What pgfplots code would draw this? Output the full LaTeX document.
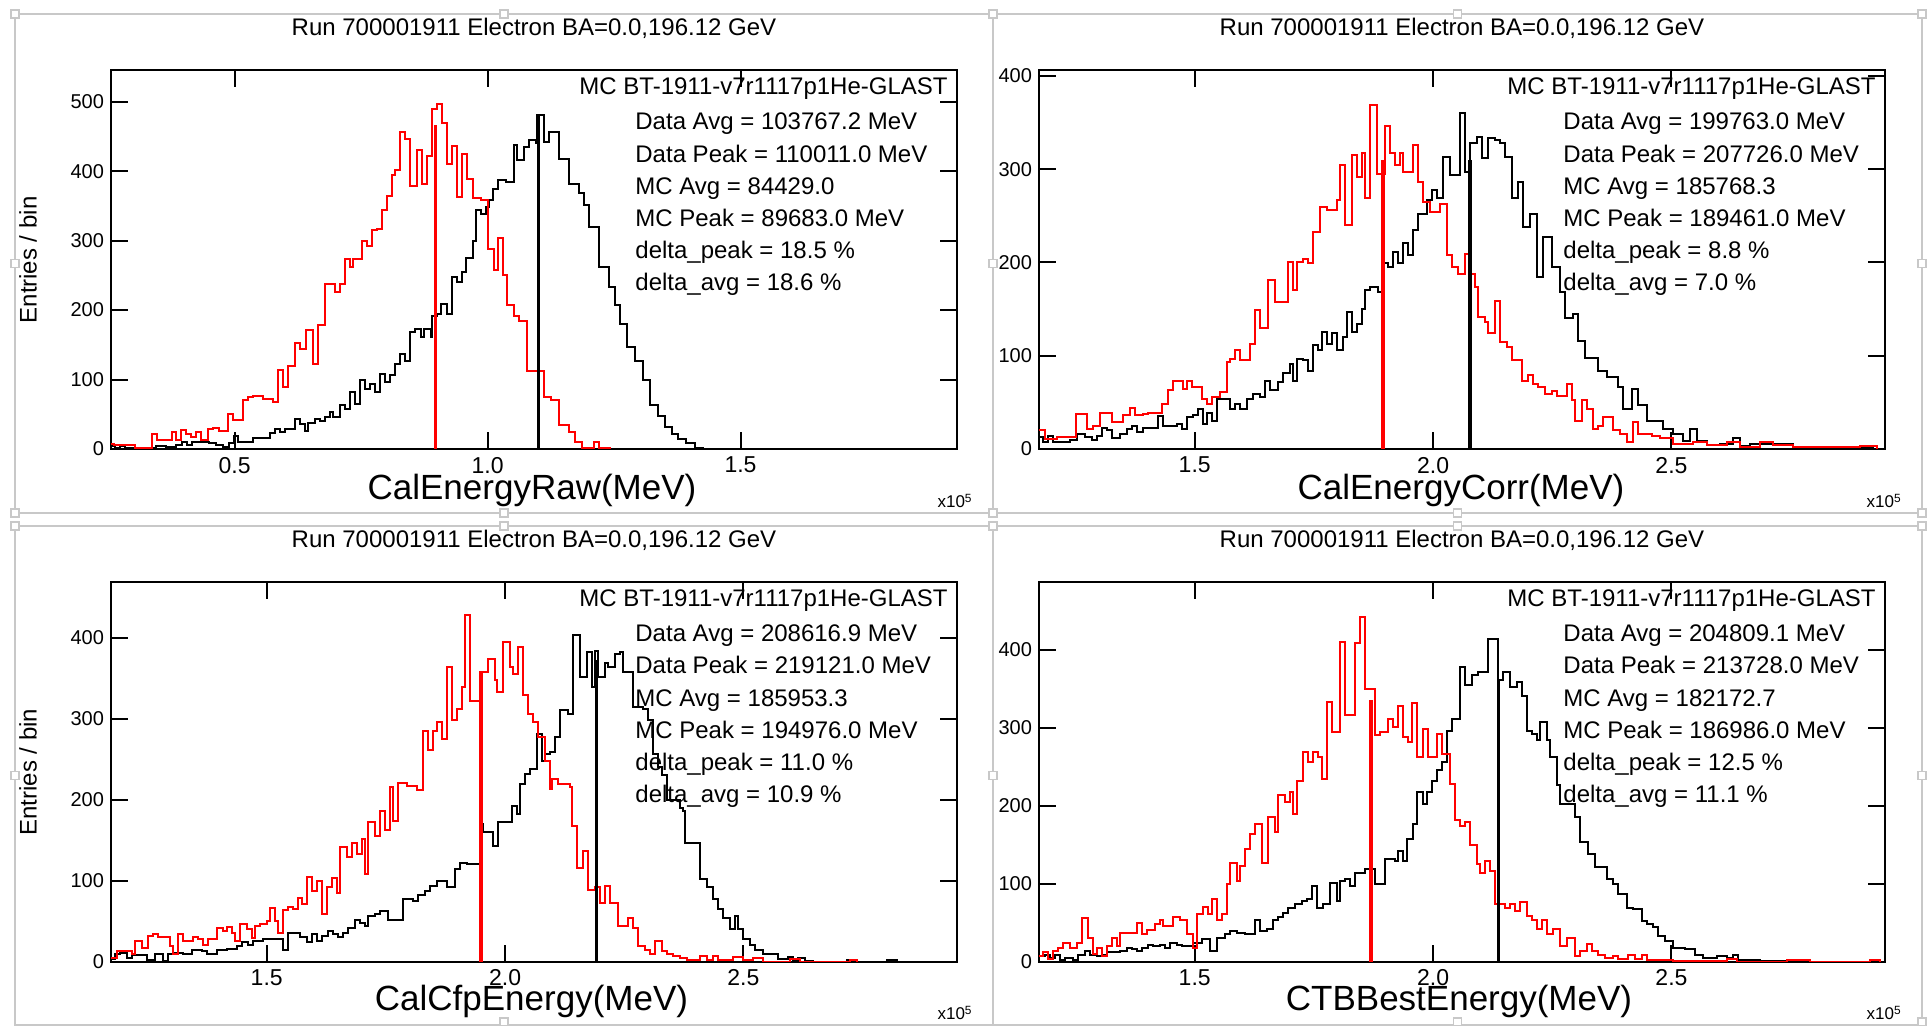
\documentclass[border=0pt]{standalone}
\usepackage{fontspec}
\setmainfont{Liberation Sans}
\usepackage{xcolor}
\usepackage{tikz}
\usepackage{pgfplots}
\pgfplotsset{compat=1.18}
\definecolor{rootred}{RGB}{255,0,0}
\definecolor{framegray}{RGB}{200,200,200}
\newcommand\annot{\fontsize{12}{14}\selectfont}
\pgfplotsset{
  histaxis/.style={
    scale only axis, width=423pt, ymin=0,
    axis line style={black, line width=1pt},
    tick style={black, line width=1pt},
    major tick length=8.5pt,
    tick align=inside,
    xtick pos=both, ytick pos=both,
    /pgf/number format/assume math mode=true,
    xticklabel style={font=\fontsize{11.5}{13}\selectfont, inner sep=0.5pt, yshift=-3.3pt},
    yticklabel style={font=\fontsize{10}{12}\selectfont},
    scaled ticks=false,
  },
  mc/.style={const plot, rootred, line width=1pt},
  data/.style={const plot, black, line width=1pt},
  mcpeak/.style={rootred, line width=1.7pt},
  datapeak/.style={black, line width=1.7pt},
}
\tikzset{st/.style={anchor=base west, font=\annot, inner sep=0pt},
         xlab/.style={anchor=base, font=\fontsize{17.5}{20}\selectfont, inner sep=0pt}}
\newcommand\statblock[6]{%
  \node[st, xshift=-161pt, yshift=-30pt]   at (rel axis cs:1,1) {#1};
  \node[st, xshift=-161pt, yshift=-46.1pt] at (rel axis cs:1,1) {#2};
  \node[st, xshift=-161pt, yshift=-62.2pt] at (rel axis cs:1,1) {#3};
  \node[st, xshift=-161pt, yshift=-78.3pt] at (rel axis cs:1,1) {#4};
  \node[st, xshift=-161pt, yshift=-94.4pt] at (rel axis cs:1,1) {#5};
  \node[st, xshift=-161pt, yshift=-110.5pt] at (rel axis cs:1,1) {#6};
  \node[anchor=base east, font=\annot, inner sep=0pt, xshift=-4.5pt, yshift=-12.5pt]
    at (rel axis cs:1,1) {MC BT-1911-v7r1117p1He-GLAST};
}
\newcommand\runtitle{Run 700001911 Electron BA=0.0,196.12 GeV}

\begin{document}
\begin{tikzpicture}
\useasboundingbox (0,0) rectangle (965.5pt,513pt);

% panel frames
\draw[framegray, line width=0.8pt] (7.5pt,256.5pt) rectangle (496.5pt,506pt);
\draw[framegray, line width=0.8pt] (496.5pt,256.5pt) rectangle (961pt,506pt);
\draw[framegray, line width=0.8pt] (7.5pt,0.5pt) rectangle (496.5pt,250pt);
\draw[framegray, line width=0.8pt] (496.5pt,0.5pt) rectangle (961pt,250pt);
\foreach \x/\y in {7.5pt/256.5pt, 7.5pt/381.25pt, 7.5pt/506pt, 252pt/506pt, 252pt/256.5pt,
                   496.5pt/256.5pt, 496.5pt/381.25pt, 496.5pt/506pt, 728.75pt/506pt, 728.75pt/256.5pt,
                   961pt/256.5pt, 961pt/381.25pt, 961pt/506pt,
                   7.5pt/125.25pt, 7.5pt/250pt, 252pt/250pt, 252pt/2pt,
                   496.5pt/125.25pt, 496.5pt/250pt, 728.75pt/250pt, 728.75pt/2pt,
                   961pt/125.25pt, 961pt/250pt, 961pt/2pt}
  \draw[framegray, line width=0.6pt, fill=white] (\x,\y) ++(-2pt,-2pt) rectangle ++(4pt,4pt);

% ---------- panel 1: CalEnergyRaw ----------
\begin{axis}[histaxis, name=p1, at={(55.5pt,288.5pt)}, anchor=south west,
    height=189.5pt, xmin=0.2555, xmax=1.928, ymax=545.7,
    xtick={0.5,1.0,1.5}, xticklabels={0.5,1.0,1.5},
    ytick={0,100,200,300,400,500}]
\addplot[data] coordinates {(0.2555,5) (0.2639,1) (0.2739,5) (0.2838,1) (0.2938,2) (0.3435,5) (0.3634,3) (0.3833,6) (0.3966,10) (0.4065,6) (0.4164,10) (0.4496,8) (0.4629,6) (0.4761,3) (0.4894,8) (0.4993,19) (0.5060,10) (0.5358,16) (0.5690,23) (0.5789,29) (0.5889,24) (0.5988,29) (0.6187,43) (0.6286,36) (0.6386,26) (0.6452,38) (0.6585,43) (0.6684,40) (0.6784,46) (0.6883,53) (0.6950,46) (0.7082,63) (0.7182,58) (0.7281,82) (0.7381,65) (0.7480,99) (0.7580,87) (0.7679,94) (0.7779,82) (0.7878,108) (0.7977,96) (0.8077,106) (0.8176,123) (0.8276,137) (0.8375,127) (0.8475,168) (0.8574,173) (0.8674,161) (0.8740,173) (0.8873,161) (0.8906,192) (0.9005,195) (0.9072,209) (0.9204,195) (0.9304,248) (0.9403,240) (0.9503,255) (0.9569,275) (0.9702,300) (0.9768,344) (0.9867,339) (0.9967,349) (1.0033,358) (1.0099,375) (1.0198,387) (1.0360,385) (1.0524,438) (1.0590,416) (1.0721,435) (1.0819,445) (1.0950,440) (1.0983,481) (1.1114,442) (1.1212,457) (1.1409,417) (1.1606,382) (1.1802,368) (1.1900,352) (1.1999,320) (1.2195,262) (1.2392,233) (1.2523,207) (1.2621,180) (1.2752,147) (1.2916,127) (1.3080,99) (1.3211,63) (1.3375,48) (1.3506,31) (1.3637,22) (1.3768,14) (1.3932,8) (1.4096,2) (1.4250,0)};
\addplot[mc] coordinates {(0.2555,7) (0.2606,6) (0.3037,2) (0.3369,22) (0.3468,13) (0.3767,24) (0.3833,13) (0.3932,27) (0.4032,22) (0.4131,17) (0.4231,24) (0.4330,13) (0.4463,29) (0.4562,30) (0.4695,26) (0.4861,50) (0.4960,42) (0.5159,71) (0.5259,75) (0.5358,76) (0.5557,72) (0.5756,67) (0.5855,114) (0.5955,89) (0.6054,120) (0.6187,152) (0.6286,144) (0.6419,172) (0.6552,122) (0.6651,178) (0.6784,238) (0.6983,226) (0.7082,238) (0.7182,273) (0.7281,262) (0.7347,273) (0.7513,300) (0.7613,292) (0.7712,316) (0.7812,317) (0.7911,344) (0.8011,364) (0.8110,394) (0.8176,401) (0.8276,457) (0.8375,446) (0.8475,378) (0.8607,431) (0.8707,382) (0.8806,422) (0.8906,490) (0.9005,497) (0.9105,470) (0.9204,411) (0.9304,436) (0.9403,363) (0.9503,425) (0.9602,389) (0.9702,361) (0.9867,358) (1.0000,288) (1.0131,258) (1.0197,304) (1.0295,250) (1.0393,207) (1.0524,192) (1.0623,185) (1.0786,113) (1.1114,75) (1.1245,71) (1.1409,35) (1.1606,24) (1.1737,10) (1.1868,2) (1.2097,10) (1.2195,2) (1.2425,0)};
\addplot[mcpeak] coordinates {(0.8968,0) (0.8968,466)};
\addplot[datapeak] coordinates {(1.1001,0) (1.1001,481)};
\statblock{Data Avg = 103767.2 MeV}{Data Peak = 110011.0 MeV}{MC Avg = 84429.0}{MC Peak = 89683.0 MeV}{delta\_peak = 18.5 \%}{delta\_avg = 18.6 \%}
\end{axis}

% ---------- panel 2: CalEnergyCorr ----------
\begin{axis}[histaxis, name=p2, at={(519.5pt,288.5pt)}, anchor=south west,
    height=189.5pt, xmin=1.1734, xmax=2.948, ymax=406.4,
    xtick={1.5,2.0,2.5}, xticklabels={1.5,2.0,2.5},
    ytick={0,100,200,300,400}]
\addplot[data] coordinates {(1.1734,13) (1.1825,7) (1.1930,14) (1.2035,7) (1.2385,10) (1.2524,16) (1.2699,13) (1.2839,10) (1.2944,14) (1.3049,23) (1.3154,20) (1.3259,12) (1.3434,16) (1.3573,21) (1.3678,25) (1.3783,18) (1.3923,23) (1.4238,35) (1.4343,25) (1.4622,27) (1.4727,21) (1.4832,34) (1.4972,36) (1.5077,43) (1.5182,27) (1.5252,39) (1.5357,30) (1.5462,54) (1.5741,43) (1.5846,48) (1.5951,43) (1.6091,54) (1.6231,59) (1.6371,56) (1.6476,73) (1.6580,63) (1.6755,72) (1.6860,82) (1.7000,91) (1.7070,73) (1.7140,97) (1.7280,95) (1.7385,84) (1.7490,111) (1.7594,106) (1.7664,125) (1.7769,113) (1.7874,124) (1.7979,106) (1.8119,120) (1.8189,147) (1.8294,125) (1.8399,134) (1.8503,150) (1.8573,170) (1.8678,174) (1.8853,168) (1.8958,199) (1.9063,195) (1.9168,211) (1.9273,199) (1.9378,221) (1.9483,208) (1.9587,235) (1.9692,252) (1.9867,267) (1.9972,278) (2.0077,269) (2.0217,313) (2.0357,294) (2.0566,360) (2.0671,297) (2.0776,328) (2.0916,335) (2.1021,312) (2.1161,333) (2.1301,331) (2.1406,328) (2.1510,313) (2.1650,269) (2.1790,286) (2.1895,238) (2.2035,252) (2.2175,184) (2.2315,227) (2.2490,195) (2.2664,168) (2.2769,140) (2.2944,145) (2.3049,116) (2.3189,98) (2.3469,84) (2.3643,77) (2.3888,66) (2.3993,43) (2.4168,64) (2.4308,47) (2.4483,30) (2.4832,21) (2.5042,16) (2.5252,9) (2.5392,21) (2.5531,9) (2.5741,4) (2.6021,5) (2.6301,12) (2.6441,3) (2.6650,5) (2.7559,2) (2.9238,0)};
\addplot[mc] coordinates {(1.1734,20) (1.1860,11) (1.2105,13) (1.2510,38) (1.2734,21) (1.2874,25) (1.3014,39) (1.3259,29) (1.3503,36) (1.3643,44) (1.3748,36) (1.3923,38) (1.4028,39) (1.4308,48) (1.4448,63) (1.4552,73) (1.4762,64) (1.4832,73) (1.4937,66) (1.5147,54) (1.5252,48) (1.5357,56) (1.5531,61) (1.5671,93) (1.5741,97) (1.5846,106) (1.5951,95) (1.6161,113) (1.6266,149) (1.6371,130) (1.6545,181) (1.6685,158) (1.6965,201) (1.7070,170) (1.7140,201) (1.7280,204) (1.7385,199) (1.7490,233) (1.7629,260) (1.7769,256) (1.7979,267) (1.8049,304) (1.8154,240) (1.8294,315) (1.8399,292) (1.8503,317) (1.8573,269) (1.8678,369) (1.8818,295) (1.8993,346) (1.9098,317) (1.9203,304) (1.9308,317) (1.9378,297) (1.9587,326) (1.9692,286) (1.9797,265) (1.9937,254) (2.0147,263) (2.0287,208) (2.0392,195) (2.0531,188) (2.0671,209) (2.0776,188) (2.0881,174) (2.0951,141) (2.1091,136) (2.1161,124) (2.1301,159) (2.1406,115) (2.1545,109) (2.1650,95) (2.1860,73) (2.2000,79) (2.2105,70) (2.2210,66) (2.2350,59) (2.2490,62) (2.2594,57) (2.2804,70) (2.2909,52) (2.2979,30) (2.3119,52) (2.3224,43) (2.3364,21) (2.3469,25) (2.3573,34) (2.3783,20) (2.3923,16) (2.4063,7) (2.4203,29) (2.4308,16) (2.4587,14) (2.4762,12) (2.5042,5) (2.5462,7) (2.5741,4) (2.6161,7) (2.6441,2) (2.6860,7) (2.7140,4) (2.7559,2) (2.8958,3) (2.9308,0)};
\addplot[mcpeak] coordinates {(1.8946,0) (1.8946,310)};
\addplot[datapeak] coordinates {(2.0773,0) (2.0773,310)};
\statblock{Data Avg = 199763.0 MeV}{Data Peak = 207726.0 MeV}{MC Avg = 185768.3}{MC Peak = 189461.0 MeV}{delta\_peak = 8.8 \%}{delta\_avg = 7.0 \%}
\end{axis}

% ---------- panel 3: CalCfpEnergy ----------
\begin{axis}[histaxis, name=p3, at={(55.5pt,32.15pt)}, anchor=south west,
    height=190pt, xmin=1.1734, xmax=2.948, ymax=468.9,
    xtick={1.5,2.0,2.5}, xticklabels={1.5,2.0,2.5},
    ytick={0,100,200,300,400}]
\addplot[data] coordinates {(1.1734,3) (1.1818,9) (1.1923,11) (1.2063,5) (1.2168,8) (1.2483,2) (1.2657,9) (1.2832,1) (1.2937,9) (1.3042,11) (1.3252,9) (1.3427,15) (1.3636,13) (1.3741,9) (1.3951,15) (1.4161,16) (1.4371,19) (1.4476,24) (1.4615,21) (1.4720,26) (1.4930,28) (1.5350,15) (1.5455,36) (1.5699,30) (1.5839,24) (1.5944,34) (1.6049,26) (1.6154,32) (1.6294,38) (1.6399,34) (1.6503,30) (1.6608,36) (1.6713,41) (1.6853,51) (1.6958,48) (1.7063,44) (1.7133,56) (1.7273,59) (1.7378,62) (1.7552,52) (1.7867,77) (1.8077,75) (1.8182,82) (1.8322,87) (1.8427,94) (1.8566,99) (1.8776,92) (1.8951,114) (1.9056,122) (1.9196,120) (1.9476,170) (1.9545,160) (1.9755,143) (1.9860,172) (2.0140,192) (2.0245,182) (2.0315,219) (2.0420,232) (2.0524,238) (2.0664,281) (2.0769,248) (2.0839,256) (2.0944,259) (2.1049,277) (2.1154,310) (2.1329,306) (2.1434,403) (2.1573,351) (2.1713,382) (2.1818,339) (2.1888,384) (2.1958,351) (2.2098,368) (2.2168,364) (2.2308,380) (2.2413,382) (2.2483,358) (2.2692,314) (2.2902,312) (2.3007,298) (2.3112,256) (2.3217,240) (2.3287,230) (2.3392,199) (2.3671,190) (2.3741,186) (2.3776,147) (2.4091,102) (2.4231,92) (2.4371,77) (2.4476,65) (2.4580,54) (2.4720,40) (2.4825,56) (2.4895,40) (2.5000,28) (2.5140,21) (2.5245,15) (2.5420,9) (2.5734,3) (2.5944,6) (2.6049,1) (2.6154,5) (2.6294,1) (2.6469,0) (2.7168,2) (2.7378,0) (2.8007,2) (2.8217,0)};
\addplot[mc] coordinates {(1.1734,5) (1.1853,13) (1.2168,9) (1.2238,26) (1.2378,17) (1.2517,32) (1.2622,34) (1.2727,30) (1.2972,19) (1.3042,9) (1.3147,34) (1.3252,26) (1.3462,31) (1.3566,28) (1.3671,21) (1.3776,28) (1.3951,42) (1.4091,38) (1.4161,43) (1.4266,36) (1.4336,25) (1.4441,46) (1.4580,40) (1.4685,29) (1.4755,44) (1.4860,47) (1.5000,50) (1.5070,66) (1.5175,50) (1.5245,36) (1.5350,64) (1.5455,68) (1.5559,65) (1.5664,78) (1.5734,71) (1.5839,105) (1.5944,87) (1.6049,99) (1.6154,59) (1.6259,92) (1.6364,103) (1.6469,85) (1.6538,141) (1.6678,129) (1.6783,147) (1.6888,133) (1.6993,151) (1.7063,108) (1.7133,172) (1.7273,155) (1.7378,186) (1.7483,162) (1.7587,215) (1.7657,174) (1.7762,221) (1.7937,217) (1.8147,212) (1.8287,285) (1.8392,261) (1.8497,285) (1.8566,296) (1.8671,275) (1.8776,364) (1.8881,298) (1.8986,312) (1.9091,339) (1.9161,428) (1.9266,322) (1.9476,358) (1.9650,374) (1.9790,347) (1.9825,333) (1.9965,395) (2.0105,364) (2.0175,355) (2.0280,388) (2.0385,329) (2.0490,306) (2.0594,296) (2.0699,277) (2.0839,248) (2.0944,213) (2.0979,226) (2.1119,219) (2.1364,215) (2.1399,168) (2.1503,116) (2.1643,137) (2.1748,89) (2.1888,92) (2.1993,73) (2.2098,94) (2.2203,73) (2.2378,44) (2.2587,54) (2.2692,42) (2.2797,19) (2.2937,15) (2.3042,9) (2.3147,25) (2.3287,13) (2.3392,9) (2.3531,7) (2.3671,4) (2.3811,2) (2.4091,7) (2.4231,2) (2.4371,7) (2.4476,2) (2.4790,6) (2.5000,2) (2.5210,4) (2.5420,0) (2.5979,3) (2.6189,0) (2.7238,2) (2.7378,0)};
\addplot[mcpeak] coordinates {(1.9498,0) (1.9498,357)};
\addplot[datapeak] coordinates {(2.1912,0) (2.1912,372)};
\statblock{Data Avg = 208616.9 MeV}{Data Peak = 219121.0 MeV}{MC Avg = 185953.3}{MC Peak = 194976.0 MeV}{delta\_peak = 11.0 \%}{delta\_avg = 10.9 \%}
\end{axis}

% ---------- panel 4: CTBBestEnergy ----------
\begin{axis}[histaxis, name=p4, at={(519.5pt,32.15pt)}, anchor=south west,
    height=190pt, xmin=1.1734, xmax=2.948, ymax=486.9,
    xtick={1.5,2.0,2.5}, xticklabels={1.5,2.0,2.5},
    ytick={0,100,200,300,400}]
\addplot[data] coordinates {(1.1734,7) (1.1860,9) (1.1965,5) (1.2070,9) (1.2175,2) (1.2280,5) (1.2455,2) (1.2559,9) (1.2699,14) (1.2804,9) (1.2944,7) (1.3049,9) (1.3154,12) (1.3434,14) (1.3573,18) (1.3678,16) (1.3783,14) (1.3888,18) (1.4028,22) (1.4133,20) (1.4273,22) (1.4378,18) (1.4483,24) (1.4622,22) (1.4727,20) (1.4972,24) (1.5147,29) (1.5322,14) (1.5462,31) (1.5636,35) (1.5741,39) (1.5881,37) (1.6056,36) (1.6266,54) (1.6371,39) (1.6510,42) (1.6650,54) (1.6755,57) (1.6860,63) (1.6965,69) (1.7105,74) (1.7245,78) (1.7350,80) (1.7455,97) (1.7559,69) (1.7699,74) (1.7839,101) (1.7979,78) (1.8049,104) (1.8154,106) (1.8259,97) (1.8364,114) (1.8573,119) (1.8783,99) (1.8993,131) (1.9203,129) (1.9273,142) (1.9378,129) (1.9448,157) (1.9587,176) (1.9657,217) (1.9797,202) (1.9867,217) (1.9972,232) (2.0077,245) (2.0182,256) (2.0287,296) (2.0392,311) (2.0566,378) (2.0671,354) (2.0811,367) (2.0951,371) (2.1161,414) (2.1371,361) (2.1476,371) (2.1615,352) (2.1755,358) (2.1860,341) (2.1965,296) (2.2070,292) (2.2175,284) (2.2245,307) (2.2385,284) (2.2455,262) (2.2594,226) (2.2664,202) (2.2979,185) (2.3084,153) (2.3259,138) (2.3399,121) (2.3643,106) (2.3783,99) (2.3888,87) (2.4063,69) (2.4203,67) (2.4378,52) (2.4483,48) (2.4622,44) (2.4727,33) (2.4867,27) (2.5042,18) (2.5287,16) (2.5497,9) (2.5671,5) (2.5951,7) (2.6161,5) (2.6301,9) (2.6406,2) (2.6860,1) (2.7559,0)};
\addplot[mc] coordinates {(1.1734,7) (1.1825,12) (1.1930,4) (1.2035,14) (1.2140,18) (1.2245,24) (1.2385,18) (1.2524,24) (1.2629,56) (1.2769,31) (1.2874,10) (1.2944,18) (1.3049,7) (1.3154,20) (1.3259,31) (1.3364,20) (1.3434,37) (1.3783,50) (1.3888,35) (1.3993,40) (1.4168,48) (1.4273,54) (1.4343,46) (1.4552,57) (1.4692,54) (1.4832,35) (1.4972,18) (1.5042,61) (1.5182,70) (1.5287,61) (1.5357,80) (1.5462,54) (1.5566,61) (1.5671,99) (1.5741,127) (1.5881,104) (1.5951,123) (1.6056,144) (1.6161,164) (1.6266,176) (1.6406,127) (1.6545,185) (1.6685,166) (1.6755,213) (1.6895,204) (1.7000,217) (1.7070,189) (1.7140,232) (1.7280,269) (1.7385,256) (1.7490,269) (1.7594,262) (1.7664,234) (1.7769,333) (1.7874,294) (1.8049,410) (1.8154,316) (1.8364,408) (1.8469,442) (1.8573,350) (1.8783,290) (1.8888,294) (1.9063,311) (1.9168,301) (1.9273,328) (1.9378,288) (1.9483,281) (1.9552,331) (1.9657,262) (1.9797,298) (1.9902,262) (2.0077,292) (2.0182,266) (2.0357,228) (2.0462,181) (2.0566,174) (2.0671,179) (2.0776,149) (2.0916,125) (2.0986,114) (2.1091,129) (2.1196,116) (2.1301,74) (2.1510,69) (2.1615,74) (2.1720,65) (2.1825,76) (2.1965,59) (2.2070,54) (2.2175,42) (2.2280,54) (2.2385,35) (2.2524,42) (2.2664,20) (2.2804,31) (2.2979,7) (2.3084,14) (2.3224,23) (2.3329,14) (2.3469,9) (2.3608,5) (2.3783,7) (2.3888,4) (2.4098,9) (2.4238,4) (2.4378,9) (2.4483,2) (2.5042,1) (2.6161,3) (2.6371,0) (2.7420,2) (2.7909,0) (2.9168,2) (2.9378,0)};
\addplot[mcpeak] coordinates {(1.8699,0) (1.8699,335)};
\addplot[datapeak] coordinates {(2.1373,0) (2.1373,361)};
\statblock{Data Avg = 204809.1 MeV}{Data Peak = 213728.0 MeV}{MC Avg = 182172.7}{MC Peak = 186986.0 MeV}{delta\_peak = 12.5 \%}{delta\_avg = 11.1 \%}
\end{axis}

% titles, axis labels
\node[anchor=base, font=\annot] at (267pt,495pt) {\runtitle};
\node[anchor=base, font=\annot] at (731pt,495pt) {\runtitle};
\node[anchor=base, font=\annot] at (267pt,239pt) {\runtitle};
\node[anchor=base, font=\annot] at (731pt,239pt) {\runtitle};

\node[xlab] at (266pt,263pt) {CalEnergyRaw(MeV)};
\node[xlab] at (730.5pt,263pt) {CalEnergyCorr(MeV)};
\node[xlab] at (265.75pt,7.5pt) {CalCfpEnergy(MeV)};
\node[xlab] at (729.5pt,7.5pt) {CTBBestEnergy(MeV)};

\node[anchor=base east, font=\fontsize{8.5}{10}\selectfont, inner sep=0pt] at (486.5pt,259pt) {x10\textsuperscript{5}};
\node[anchor=base east, font=\fontsize{8.5}{10}\selectfont, inner sep=0pt] at (951pt,259pt) {x10\textsuperscript{5}};
\node[anchor=base east, font=\fontsize{8.5}{10}\selectfont, inner sep=0pt] at (486.5pt,3pt) {x10\textsuperscript{5}};
\node[anchor=base east, font=\fontsize{8.5}{10}\selectfont, inner sep=0pt] at (951pt,3pt) {x10\textsuperscript{5}};

\node[rotate=90, font=\annot] at (14pt,383pt) {Entries / bin};
\node[rotate=90, font=\annot] at (14pt,127pt) {Entries / bin};
\end{tikzpicture}
\end{document}
